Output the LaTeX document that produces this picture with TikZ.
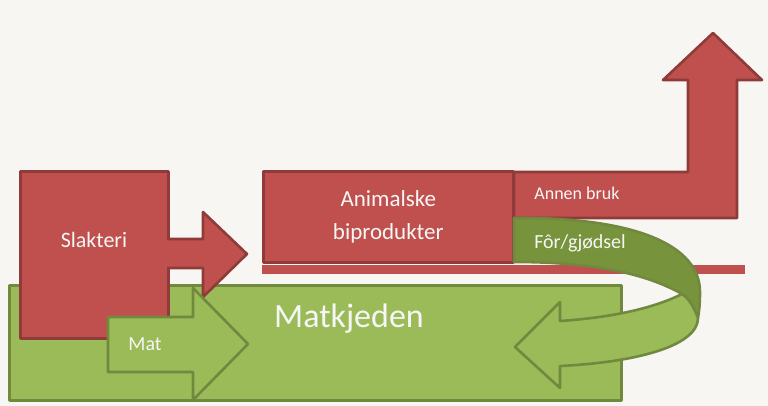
\documentclass[tikz,border=0pt]{standalone}
\usepackage{fontspec}
\setmainfont{Carlito}
\definecolor{matred}{HTML}{C0504D}
\definecolor{matredline}{HTML}{8E3B39}
\definecolor{matgreen}{HTML}{9BBB59}
\definecolor{matgreenline}{HTML}{71893F}
\definecolor{matdarkgreen}{HTML}{77933C}
\definecolor{matpaper}{HTML}{F8F6F2}
\definecolor{mattext}{HTML}{F6F6F6}

\begin{document}
\begin{tikzpicture}[x=1pt, y=-1pt,
  every node/.style={text=mattext, inner sep=0pt},
  redbox/.style={fill=matred, draw=matredline, line width=2.6pt, line join=round},
  greenbox/.style={fill=matgreen, draw=matgreenline, line width=2.6pt, line join=round},
  boxtext/.style={font=\fontsize{#1}{#1}\selectfont, anchor=base}]
  % paper
  \fill[matpaper] (0,0) rectangle (768,406);
  % food chain
  \node[greenbox, minimum width=612pt, minimum height=115pt, anchor=north west] (matkjeden) at (8,284) {};
  \node[boxtext=34] (matkjedentxt) at (349,327) {Matkjeden};
  % slaughterhouse and its outlet
  \node[redbox, minimum width=148pt, minimum height=167pt, anchor=north west] (slakteri) at (19,170) {};
  \node[boxtext=22] (slakteritxt) at (94,247) {Slakteri};
  \fill[matred] (166,239) -- (203,239) -- (203,212) -- (247,254) -- (203,297) -- (203,268) -- (166,268) -- cycle;
  \draw[matredline, line width=2.6pt, line join=round] (167,239) -- (203,239) -- (203,212) -- (247,254) -- (203,297) -- (203,268) -- (167,268);
  \draw[greenbox] (108,317) -- (193,317) -- (193,288) -- (248,344) -- (193,400) -- (193,372) -- (108,372) -- cycle;
  \node[boxtext=20] (mat) at (145,350) {Mat};
  % by-products
  \node[redbox, minimum width=250pt, minimum height=91pt, anchor=north west, align=center,
    font=\fontsize{23}{33}\selectfont] (biprod) at (262,170) {Animalske\\biprodukter};
  \fill[matred] (262,265) rectangle (745,274);
  \draw[redbox] (514,172) -- (688,172) -- (688,80) -- (663,80) -- (713,33) -- (762,80) -- (737,80) -- (737,218) -- (514,218) -- cycle;
  \node[boxtext=18] (annen) at (577,200) {Annen bruk};
  % back into the food chain
  \draw[fill=matdarkgreen, draw=matgreenline, line width=2.6pt, line join=round]
    (514,218) .. controls (635,217) and (700,245) .. (700,292)
    .. controls (700,305) and (699,312) .. (698,318)
    .. controls (693,305) and (688,298) .. (682,294)
    .. controls (640,270) and (580,262) .. (514,262) -- cycle;
  \draw[greenbox]
    (682,294) .. controls (650,310) and (605,318) .. (560,321)
    -- (560,302) -- (515,347) -- (560,388) -- (560,366)
    .. controls (640,362) and (698,345) .. (698,318)
    .. controls (693,305) and (688,298) .. (682,294) -- cycle;
  \node[boxtext=20] (forgjodsel) at (580,248) {Fôr/gjødsel};
\end{tikzpicture}
\end{document}
